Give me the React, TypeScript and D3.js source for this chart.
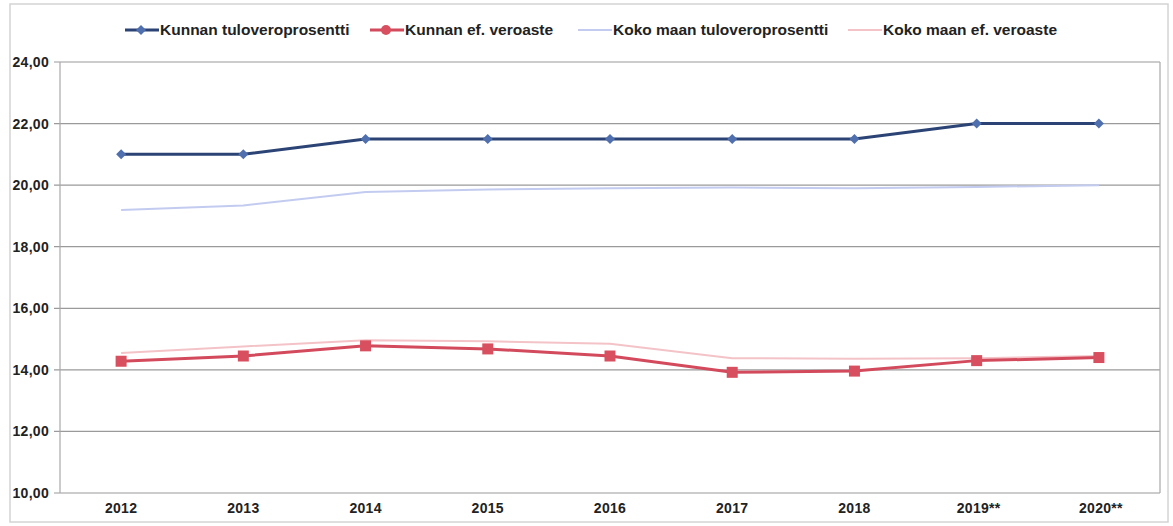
import React from "react";
import * as d3 from "d3";

const categories = ["2012", "2013", "2014", "2015", "2016", "2017", "2018", "2019**", "2020**"];
const kunnanTulovero = [21.0, 21.0, 21.5, 21.5, 21.5, 21.5, 21.5, 22.0, 22.0];
const kunnanEfVeroaste = [14.28, 14.45, 14.78, 14.68, 14.45, 13.92, 13.96, 14.3, 14.4];
const kokoMaanTulovero = [19.19, 19.34, 19.78, 19.86, 19.9, 19.92, 19.9, 19.94, 20.0];
const kokoMaanEfVeroaste = [14.55, 14.76, 14.96, 14.93, 14.85, 14.38, 14.36, 14.38, 14.45];
const yTicks = [10, 12, 14, 16, 18, 20, 22, 24];

const W = 1173;
const H = 526;
const plot = { left: 60, right: 1160, top: 62, bottom: 493 };

const FONT = "'Liberation Sans', Arial, sans-serif";

export default function App() {
  const x = d3
    .scalePoint<string>()
    .domain(categories)
    .range([plot.left, plot.right])
    .padding(0.5);
  const y = d3.scaleLinear().domain([10, 24]).range([plot.bottom, plot.top]);
  const fmt = (v: number) => v.toFixed(2).replace(".", ",");

  const line = d3
    .line<number>()
    .x((_, i) => x(categories[i]) as number)
    .y((d) => y(d));

  const series = [
    { name: "Kunnan tuloveroprosentti", data: kunnanTulovero, color: "#2b4475", marker: "diamond", width: 3, mcolor: "#4f6fae" },
    { name: "Kunnan ef. veroaste", data: kunnanEfVeroaste, color: "#d24a5c", marker: "square", width: 3, mcolor: "#d8505f" },
    { name: "Koko maan tuloveroprosentti", data: kokoMaanTulovero, color: "#c3ccf0", marker: "none", width: 2, mcolor: "" },
    { name: "Koko maan ef. veroaste", data: kokoMaanEfVeroaste, color: "#f3c3c8", marker: "none", width: 2, mcolor: "" },
  ];

  const drawOrder = [2, 3, 0, 1];

  const legendX = [125, 370, 578, 848];
  const legendY = 30;

  const marker = (kind: string, cx: number, cy: number, color: string, key: string) => {
    if (kind === "diamond") {
      const s = 5;
      return (
        <path
          key={key}
          d={`M${cx},${cy - s}L${cx + s},${cy}L${cx},${cy + s}L${cx - s},${cy}Z`}
          fill={color}
        />
      );
    }
    if (kind === "square") {
      const s = 5.5;
      return <rect key={key} x={cx - s} y={cy - s} width={2 * s} height={2 * s} fill={color} />;
    }
    return null;
  };

  return (
    <svg width={W} height={H} style={{ display: "block", position: "absolute", left: 0, top: 0, background: "#fff" }}>
      {/* outer chart frame */}
      <rect x={10} y={4} width={1158} height={518} fill="none" stroke="#d4d4d4" strokeWidth={1.5} />

      {/* gridlines */}
      {yTicks.map((t) => (
        <line key={t} x1={plot.left - 6} x2={plot.right} y1={y(t)} y2={y(t)} stroke="#9a9a9a" strokeWidth={1.2} />
      ))}
      {/* plot frame */}
      <line x1={plot.left} x2={plot.left} y1={plot.top} y2={plot.bottom} stroke="#a8a8a8" strokeWidth={1.2} />
      <line x1={plot.right} x2={plot.right} y1={plot.top} y2={plot.bottom} stroke="#a8a8a8" strokeWidth={1.2} />

      {/* y labels */}
      {yTicks.map((t) => (
        <text
          key={"yl" + t}
          x={49}
          y={y(t) + 5}
          textAnchor="end"
          fontFamily={FONT}
          fontWeight="bold"
          fontSize={14}
          letterSpacing={0.3}
          fill="#222"
        >
          {fmt(t)}
        </text>
      ))}

      {/* x labels */}
      {categories.map((c) => (
        <text
          key={"xl" + c}
          x={(x(c) as number) + (c.includes("*") ? 2 : 0)}
          y={513}
          textAnchor="middle"
          fontFamily={FONT}
          fontWeight="bold"
          fontSize={14}
          letterSpacing={0.3}
          fill="#222"
        >
          {c}
        </text>
      ))}

      {/* series */}
      {drawOrder.map((si) => {
        const s = series[si];
        return (
          <g key={s.name}>
            <path d={line(s.data) || ""} fill="none" stroke={s.color} strokeWidth={s.width} strokeLinejoin="round" />
            {s.data.map((v, i) => marker(s.marker, x(categories[i]) as number, y(v), s.mcolor, s.name + i))}
          </g>
        );
      })}

      {/* legend */}
      {series.map((s, i) => {
        const lx = legendX[i];
        return (
          <g key={"lg" + i}>
            <line x1={lx} x2={lx + 34} y1={legendY} y2={legendY} stroke={s.color} strokeWidth={s.width} />
            {s.marker === "diamond" && marker("diamond", lx + 16, legendY, s.mcolor, "lgm" + i)}
            {s.marker === "square" && <circle cx={lx + 16} cy={legendY} r={5} fill={s.mcolor} />}
            <text x={lx + 35} y={legendY + 5} fontFamily={FONT} fontWeight="bold" fontSize={15.5} fill="#222">
              {s.name}
            </text>
          </g>
        );
      })}
    </svg>
  );
}
